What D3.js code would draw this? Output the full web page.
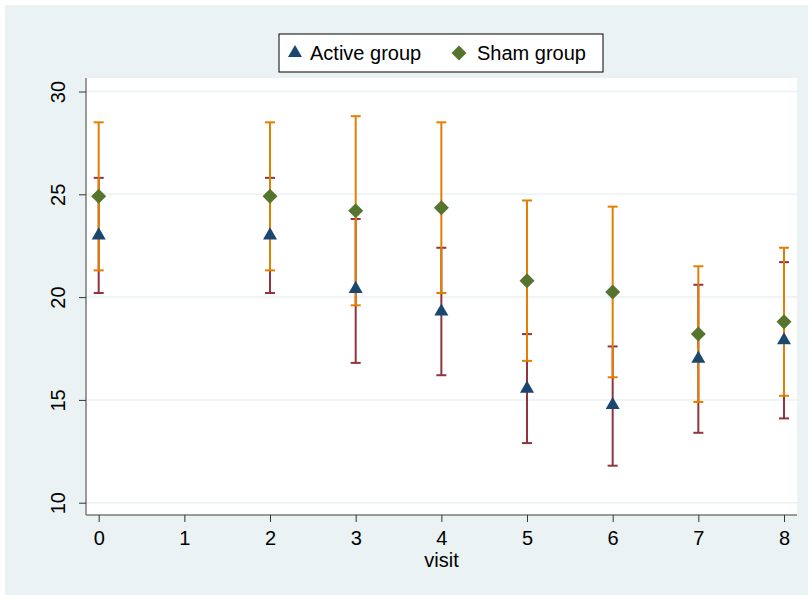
<!DOCTYPE html>
<html>
<head>
<meta charset="utf-8">
<script src="https://cdn.jsdelivr.net/npm/d3@7"></script>
<style>
  html, body { margin: 0; padding: 0; background: #ffffff; }
  text { font-family: "Liberation Sans", Arial, sans-serif; fill: #000; }
</style>
</head>
<body>
<div id="chart"></div>
<script>
// Visits shown on the x axis
const visits = [0, 2, 3, 4, 5, 6, 7, 8];
const xTicks = [0, 1, 2, 3, 4, 5, 6, 7, 8];
const yTicks = [10, 15, 20, 25, 30];

// Active group: mean and CI bounds
const activeMean = [23.0, 23.0, 20.4, 19.3, 15.55, 14.75, 17.0, 17.9];
const activeLow = [20.2, 20.2, 16.8, 16.2, 12.9, 11.8, 13.4, 14.1];
const activeHigh = [25.8, 25.8, 23.8, 22.4, 18.2, 17.6, 20.6, 21.7];

// Sham group: mean and CI bounds
const shamMean = [24.9, 24.9, 24.2, 24.35, 20.8, 20.25, 18.2, 18.8];
const shamLow = [21.3, 21.3, 19.6, 20.2, 16.9, 16.1, 14.9, 15.2];
const shamHigh = [28.5, 28.5, 28.8, 28.5, 24.7, 24.4, 21.5, 22.4];

const seriesNames = ["Active group", "Sham group"];

const width = 808;
const height = 595;

const colors = {
  active: "#1a476f",
  activeBar: "#90353b",
  sham: "#55752f",
  shamBar: "#e37e00",
  region: "#eaf2f3",
};

const svg = d3
  .select("#chart")
  .append("svg")
  .attr("width", width)
  .attr("height", height);

// Graph region
svg
  .append("rect")
  .attr("x", 5)
  .attr("y", 5)
  .attr("width", width - 5)
  .attr("height", height - 5)
  .style("fill", colors.region);

// Plot region bounds
const plot = { left: 86, right: 797, top: 78, bottom: 515 };

svg
  .append("rect")
  .attr("x", plot.left)
  .attr("y", plot.top)
  .attr("width", plot.right - plot.left)
  .attr("height", plot.bottom - plot.top)
  .style("fill", "#ffffff");

// Scales
const x = d3.scaleLinear().domain([0, 8]).range([98.7, 784]);
const y = d3.scaleLinear().domain([10, 30]).range([502.7, 91.5]);

// Gridlines
svg
  .append("g")
  .selectAll("line")
  .data(yTicks)
  .enter()
  .append("line")
  .attr("x1", plot.left)
  .attr("x2", plot.right)
  .attr("y1", (d) => y(d))
  .attr("y2", (d) => y(d))
  .style("stroke", colors.region)
  .style("stroke-width", 1.5);

// Axes
const yAxis = d3.axisLeft(y).tickValues(yTicks).tickSize(7).tickPadding(8);
const xAxis = d3.axisBottom(x).tickValues(xTicks).tickSize(7).tickPadding(9);

const gy = svg
  .append("g")
  .attr("transform", `translate(${plot.left},0)`)
  .call(yAxis);

gy.select(".domain")
  .attr("d", `M0,${plot.top}V${plot.bottom}`)
  .style("stroke", "#7a7a7a")
  .style("stroke-width", 1.5);

gy.selectAll(".tick line").style("stroke", "#333").style("stroke-width", 1);

gy.selectAll(".tick text")
  .style("font-size", "20px")
  .attr("transform", "rotate(-90)")
  .attr("x", 0)
  .attr("y", -28)
  .attr("dy", "0.35em")
  .style("text-anchor", "middle");

const gx = svg
  .append("g")
  .attr("transform", `translate(0,${plot.bottom})`)
  .call(xAxis);

gx.select(".domain")
  .attr("d", `M${plot.left},0H${plot.right}`)
  .style("stroke", "#7a7a7a")
  .style("stroke-width", 1.5);

gx.selectAll(".tick line").style("stroke", "#333").style("stroke-width", 1);
gx.selectAll(".tick text").style("font-size", "20px");

svg
  .append("text")
  .attr("x", (plot.left + plot.right) / 2)
  .attr("y", 567)
  .style("text-anchor", "middle")
  .style("font-size", "20px")
  .text("visit");

// Error bars (caps)
function drawCaps(lows, highs, color) {
  const g = svg.append("g");
  const capW = 5;
  visits.forEach((v, i) => {
    const cx = x(v);
    g.append("line")
      .attr("x1", cx)
      .attr("x2", cx)
      .attr("y1", y(lows[i]))
      .attr("y2", y(highs[i]))
      .style("stroke", color)
      .style("stroke-width", 2);
    [lows[i], highs[i]].forEach((val) => {
      g.append("line")
        .attr("x1", cx - capW)
        .attr("x2", cx + capW)
        .attr("y1", y(val))
        .attr("y2", y(val))
        .style("stroke", color)
        .style("stroke-width", 2);
    });
  });
}

drawCaps(activeLow, activeHigh, colors.activeBar);
drawCaps(shamLow, shamHigh, colors.shamBar);

// Markers
const triangle = d3.symbol().type(d3.symbolTriangle).size(85);
const diamond = "M0,-7.5L7.5,0L0,7.5L-7.5,0Z";

svg
  .append("g")
  .selectAll("path")
  .data(activeMean)
  .enter()
  .append("path")
  .attr("d", triangle)
  .attr("transform", (d, i) => `translate(${x(visits[i])},${y(d)})`)
  .style("fill", colors.active);

svg
  .append("g")
  .selectAll("path")
  .data(shamMean)
  .enter()
  .append("path")
  .attr("d", diamond)
  .attr("transform", (d, i) => `translate(${x(visits[i])},${y(d)})`)
  .style("fill", colors.sham);

// Legend
const legend = svg.append("g").attr("transform", "translate(279,34)");

legend
  .append("rect")
  .attr("width", 324)
  .attr("height", 38)
  .style("fill", "#ffffff")
  .style("stroke", "#000")
  .style("stroke-width", 1);

legend
  .append("path")
  .attr("d", triangle)
  .attr("transform", "translate(16,19)")
  .style("fill", colors.active);

legend
  .append("text")
  .attr("x", 31)
  .attr("y", 19)
  .attr("dy", "0.35em")
  .style("font-size", "20px")
  .text(seriesNames[0]);

legend
  .append("path")
  .attr("d", diamond)
  .attr("transform", "translate(180,19)")
  .style("fill", colors.sham);

legend
  .append("text")
  .attr("x", 198)
  .attr("y", 19)
  .attr("dy", "0.35em")
  .style("font-size", "20px")
  .text(seriesNames[1]);
</script>
</body>
</html>
